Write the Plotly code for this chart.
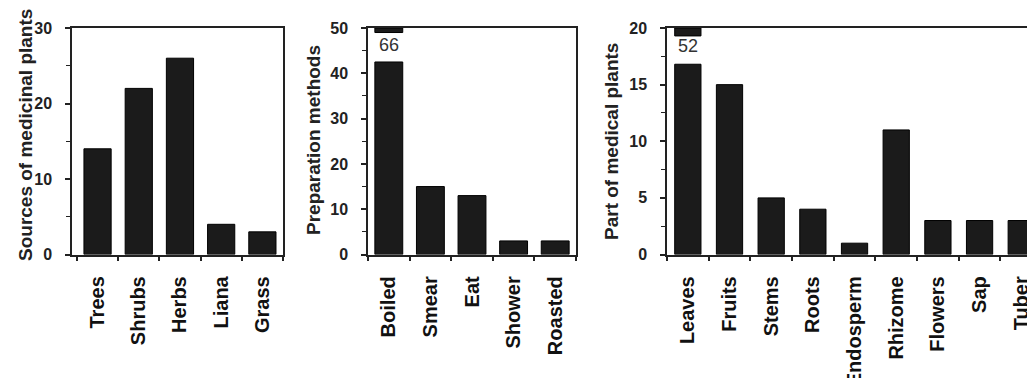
import plotly.graph_objects as go

# ---- data ----
source_cats = ["Trees", "Shrubs", "Herbs", "Liana", "Grass"]
source_vals = [14, 22, 26, 4, 3]

method_cats = ["Boiled", "Smear", "Eat", "Shower", "Roasted"]
method_vals = [66, 15, 13, 3, 3]

part_cats = ["Leaves", "Fruits", "Stems", "Roots", "Endosperm", "Rhizome", "Flowers", "Sap", "Tuber"]
part_vals = [52, 15, 5, 4, 1, 11, 3, 3, 3]

y_titles = ["Sources of medicinal plants", "Preparation methods", "Part of medical plants"]
y_max = [30, 50, 20]
y_dtick = [10, 10, 5]
break_at = [None, 42.5, 16.8]     # where a broken (off-scale) bar is cut
stub_len = [None, 1.0, 0.7]       # height of the stub drawn at the top of the axis

# page body has an 8px default margin; figure is sized to fit the window
OFF = 8
W, H = 1035 - OFF, 378 - OFF
FONT = "Liberation Sans"
BAR = "#1b1b1b"
LINE = "#222222"

# pixel layout (window coordinates)
x_dom_px = [(72, 283), (368, 576), (667, 1035)]
x_ranges = [[-0.62, 4.5], [-0.5, 4.5], [-0.5, 8.33]]
bar_w = [0.66, 0.67, 0.63]
y_top_px, y_bot_px = 28, 254.5
title_pos = [(25, 135), (313, 140), (611, 142)]

panels = [(source_cats, source_vals), (method_cats, method_vals), (part_cats, part_vals)]

fig = go.Figure()
annotations = []
for i, (cats, vals) in enumerate(panels):
    n = "" if i == 0 else str(i + 1)
    xa, ya = "x" + n, "y" + n
    ymax = y_max[i]
    shown = [min(v, break_at[i]) if (break_at[i] is not None and v > ymax) else v for v in vals]
    fig.add_trace(go.Bar(x=cats, y=shown, xaxis=xa, yaxis=ya, width=bar_w[i],
                         marker=dict(color=BAR, line=dict(color="#000", width=1)),
                         showlegend=False, hoverinfo="x+y"))
    over = [(c, v) for c, v in zip(cats, vals) if v > ymax]
    if over:
        fig.add_trace(go.Bar(x=[c for c, _ in over], y=[stub_len[i]] * len(over),
                             base=[ymax - stub_len[i]] * len(over),
                             xaxis=xa, yaxis=ya, width=bar_w[i],
                             marker=dict(color=BAR, line=dict(color="#000", width=1)),
                             showlegend=False, hoverinfo="skip"))
        for c, v in over:
            annotations.append(dict(x=c, y=(break_at[i] + ymax) / 2, xref=xa, yref=ya,
                                    text=str(v), showarrow=False, yanchor="middle",
                                    font=dict(family=FONT, size=18, color="#333")))
    x0, x1 = x_dom_px[i][0] - OFF, x_dom_px[i][1] - OFF
    fig.update_layout(**{
        ("xaxis" + n): dict(
            domain=[x0 / W, min(x1 / W, 1)], range=x_ranges[i], type="category",
            showline=True, linecolor=LINE, linewidth=1.5, mirror=True,
            ticks="outside", tickson="boundaries", ticklen=5, tickwidth=1.5, tickcolor=LINE,
            tickangle=-90, ticklabelstandoff=12,
            tickfont=dict(family=FONT, size=20, color="#111", weight="bold"),
            showgrid=False, zeroline=False, anchor=ya, fixedrange=True),
        ("yaxis" + n): dict(
            domain=[1 - (y_bot_px - OFF) / H, 1 - (y_top_px - OFF) / H], range=[0, ymax],
            dtick=y_dtick[i], showline=True, linecolor=LINE, linewidth=1.5,
            mirror=(i < 2), ticks="outside", ticklen=5, tickwidth=1.5, tickcolor=LINE,
            minor=dict(dtick=y_dtick[i] / 2, ticks="outside", ticklen=4, tickwidth=1.2, tickcolor=LINE),
            ticklabelstandoff=10,
            tickfont=dict(family=FONT, size=16, color="#222", weight="bold"),
            showgrid=False, zeroline=False, anchor=xa, fixedrange=True),
    })
    tx, ty = title_pos[i]
    annotations.append(dict(x=(tx - OFF) / W, y=1 - (ty - OFF) / H, xref="paper", yref="paper",
                            text=y_titles[i], textangle=-90, showarrow=False,
                            xanchor="center", yanchor="middle",
                            font=dict(family=FONT, size=19, color="#222", weight="bold")))

fig.update_layout(width=W, height=H, margin=dict(l=0, r=0, t=0, b=0, autoexpand=False),
                  plot_bgcolor="white", paper_bgcolor="white", barmode="overlay",
                  annotations=annotations, showlegend=False)

fig.write_html("out.html")
